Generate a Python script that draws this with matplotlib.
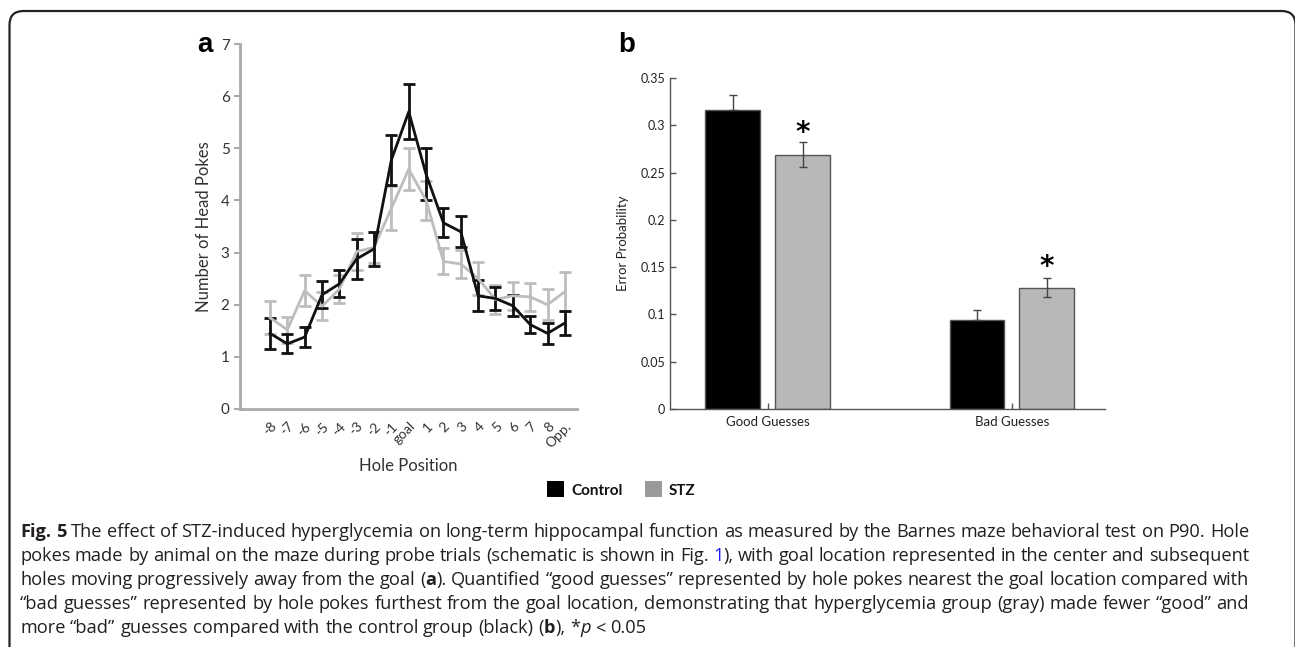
import re
import numpy as np
import matplotlib
matplotlib.use('Agg')
from matplotlib import pyplot as plt
from matplotlib.patches import FancyBboxPatch, Rectangle

# Panel a data: head pokes per hole position
hole_labels = ['-8', '-7', '-6', '-5', '-4', '-3', '-2', '-1', 'goal',
               '1', '2', '3', '4', '5', '6', '7', '8', 'Opp.']
control_a = [1.45, 1.25, 1.38, 2.19, 2.40, 2.88, 3.07, 4.78, 5.70,
             4.50, 3.57, 3.40, 2.17, 2.12, 1.98, 1.62, 1.45, 1.65]
control_a_err = [0.30, 0.18, 0.20, 0.26, 0.26, 0.38, 0.33, 0.48, 0.53,
                 0.50, 0.28, 0.30, 0.30, 0.22, 0.20, 0.17, 0.20, 0.23]
stz_a = [1.75, 1.52, 2.27, 1.97, 2.30, 3.02, 3.10, 3.85, 4.60,
         4.00, 2.83, 2.78, 2.50, 2.10, 2.17, 2.15, 2.00, 2.25]
stz_a_err = [0.32, 0.25, 0.30, 0.27, 0.27, 0.35, 0.30, 0.42, 0.40,
             0.38, 0.25, 0.27, 0.32, 0.28, 0.27, 0.27, 0.30, 0.37]

# Panel b data: error probability
guess_labels = ['Good Guesses', 'Bad Guesses']
control_b = [0.316, 0.094]
control_b_err = [0.016, 0.0105]
stz_b = [0.269, 0.128]
stz_b_err = [0.0135, 0.0100]
star_b = [0.292, 0.150]

caption_lines = [
    "**Fig. 5** The effect of STZ-induced hyperglycemia on long-term hippocampal function as measured by the Barnes maze behavioral test on P90. Hole",
    "pokes made by animal on the maze during probe trials (schematic is shown in Fig. [1]), with goal location represented in the center and subsequent",
    "holes moving progressively away from the goal (**a**). Quantified \u201cgood guesses\u201d represented by hole pokes nearest the goal location compared with",
    "\u201cbad guesses\u201d represented by hole pokes furthest from the goal location, demonstrating that hyperglycemia group (gray) made fewer \u201cgood\u201d and",
    "more \u201cbad\u201d guesses compared with the control group (black) (**b**), *_p_ < 0.05",
]

W, H = 1295, 647
chart_font = ['Lato', 'DejaVu Sans']
cap_font = ['Open Sans', 'DejaVu Sans']
plt.rcParams['font.family'] = chart_font

fig = plt.figure(figsize=(W / 100, H / 100), dpi=100)

def fx(px):
    return px / W

def fy(py):
    return (H - py) / H

# outer rounded frame
frame = FancyBboxPatch((0.095, -0.3), 12.86, 6.66, boxstyle='round,pad=0,rounding_size=0.14',
                       transform=fig.dpi_scale_trans, fill=False, edgecolor='#222222', linewidth=1.6)
fig.add_artist(frame)

# ---- panel a ----
axa = fig.add_axes([fx(240), fy(409), fx(577) - fx(240), fy(44) - fy(409)])
xa = np.arange(len(hole_labels))
axa.errorbar(xa, stz_a, yerr=stz_a_err, color='#bdbdbd', linewidth=2, elinewidth=2,
             capsize=4, capthick=2)
axa.errorbar(xa, control_a, yerr=control_a_err, color='#111111', linewidth=2, elinewidth=2,
             capsize=4, capthick=2)
axa.set_xlim(-1.73, 17.7)
axa.set_ylim(0, 7)
axa.set_yticks(range(8))
axa.set_xticks(xa)
axa.set_xticklabels(hole_labels, rotation=45, ha='right', rotation_mode='anchor', fontsize=10, color='#333333')
axa.tick_params(axis='x', length=0, pad=8)
axa.tick_params(axis='y', length=4, width=1.5, color='#aaaaaa', labelsize=11, labelcolor='#333333')
for s in ['top', 'right']:
    axa.spines[s].set_visible(False)
for s in ['left', 'bottom']:
    axa.spines[s].set_color('#aaaaaa')
    axa.spines[s].set_linewidth(2)
axa.set_ylabel('Number of Head Pokes', fontsize=12, color='#333333', labelpad=6)
axa.set_xlabel('Hole Position', fontsize=12, color='#333333', labelpad=6)
fig.text(fx(197), fy(52), 'a', fontsize=20, fontweight='bold', va='baseline',
         family=['Liberation Sans', 'DejaVu Sans'])

# ---- panel b ----
axb = fig.add_axes([fx(670), fy(409), fx(1105) - fx(670), fy(78) - fy(409)])
xb = np.array([1.0, 2.0])
off, bw = 0.143, 0.225
axb.bar(xb - off, control_b, bw, color='#000000', edgecolor='#555555', linewidth=1)
axb.bar(xb + off, stz_b, bw, color='#b8b8b8', edgecolor='#555555', linewidth=1)
axb.errorbar(xb - off, control_b, yerr=[[0, 0], control_b_err], fmt='none', ecolor='#444444',
             elinewidth=1, capsize=3)
axb.errorbar(xb + off, stz_b, yerr=stz_b_err, fmt='none', ecolor='#444444', elinewidth=1, capsize=3)
for xi, yi in zip(xb + off, star_b):
    axb.text(xi, yi, '*', ha='center', va='center', fontsize=20, fontweight='bold',
             family=['DejaVu Sans'])
axb.set_xlim(0.6, 2.381)
axb.set_ylim(0, 0.35)
axb.set_yticks(np.arange(0, 0.36, 0.05))
axb.set_yticklabels(['0', '0.05', '0.1', '0.15', '0.2', '0.25', '0.3', '0.35'])
axb.set_xticks(xb)
axb.set_xticklabels(guess_labels)
axb.tick_params(direction='in', length=4, width=1, color='#555555', labelsize=9, labelcolor='#222222')
axb.tick_params(axis='x', pad=5, labelsize=9.5)
for s in ['top', 'right']:
    axb.spines[s].set_visible(False)
for s in ['left', 'bottom']:
    axb.spines[s].set_color('#555555')
    axb.spines[s].set_linewidth(1)
axb.set_ylabel('Error Probability', fontsize=9.5, color='#222222', labelpad=8)
fig.text(fx(618), fy(52), 'b', fontsize=20, fontweight='bold', va='baseline',
         family=['Liberation Sans', 'DejaVu Sans'])

# ---- legend ----
fig.add_artist(Rectangle((fx(547), fy(497)), fx(17), fy(481) - fy(497), transform=fig.transFigure,
                         facecolor='#000000', edgecolor='none'))
fig.text(fx(571), fy(495), 'Control', fontsize=11, fontweight='bold', color='#111111')
fig.add_artist(Rectangle((fx(645), fy(497)), fx(17), fy(481) - fy(497), transform=fig.transFigure,
                         facecolor='#9a9a9a', edgecolor='none'))
fig.text(fx(669), fy(495), 'STZ', fontsize=11, fontweight='bold', color='#111111')

# ---- caption (justified, mixed styles) ----
renderer = fig.canvas.get_renderer()
styles = {
    'n': dict(color='#231f20'),
    'b': dict(color='#231f20', fontweight='bold'),
    'i': dict(color='#231f20', style='italic'),
    'l': dict(color='#1a1aff'),
}

def text_width(s, st, size):
    t = fig.text(0, 0, s, fontsize=size, family=cap_font, **styles[st])
    w = t.get_window_extent(renderer).width
    t.remove()
    return w

def parse(line):
    chars = []
    for part in re.split(r'(\*\*.*?\*\*|_.*?_|\[.*?\])', line):
        if part.startswith('**') and part.endswith('**') and len(part) > 4:
            chars += [(c, 'b') for c in part[2:-2]]
        elif part.startswith('_') and part.endswith('_') and len(part) > 2:
            chars += [(c, 'i') for c in part[1:-1]]
        elif part.startswith('[') and part.endswith(']'):
            chars += [(c, 'l') for c in part[1:-1]]
        else:
            chars += [(c, 'n') for c in part]
    words, cur = [], []
    for c, st in chars:
        if c == ' ':
            if cur:
                words.append(cur)
            cur = []
        else:
            if cur and cur[-1][1] == st:
                cur[-1] = (cur[-1][0] + c, st)
            else:
                cur.append((c, st))
    if cur:
        words.append(cur)
    return words

x_left, x_right = 20, 1249

# pick a caption size so that the first line fits naturally
probe = 10.0
sp = text_width('a a', 'n', probe) - text_width('aa', 'n', probe)
w0 = parse(caption_lines[0])
nat = sum(text_width(s, st, probe) for w in w0 for s, st in w) + sp * (len(w0) - 1)
cap_size = probe * (x_right - x_left) / nat
space_w = text_width('a a', 'n', cap_size) - text_width('aa', 'n', cap_size)

for i, line in enumerate(caption_lines):
    words = parse(line)
    widths = [[text_width(s, st, cap_size) for s, st in w] for w in words]
    total = sum(sum(w) for w in widths)
    if i < len(caption_lines) - 1:
        gap = (x_right - x_left - total) / (len(words) - 1)
    else:
        gap = space_w
    x = x_left
    y = 537 + 24 * i
    for w, ws in zip(words, widths):
        for (s, st), wi in zip(w, ws):
            fig.text(fx(x), fy(y), s, fontsize=cap_size, family=cap_font, va='baseline', **styles[st])
            x += wi
        x += gap

fig.savefig('out.png', dpi=100)
